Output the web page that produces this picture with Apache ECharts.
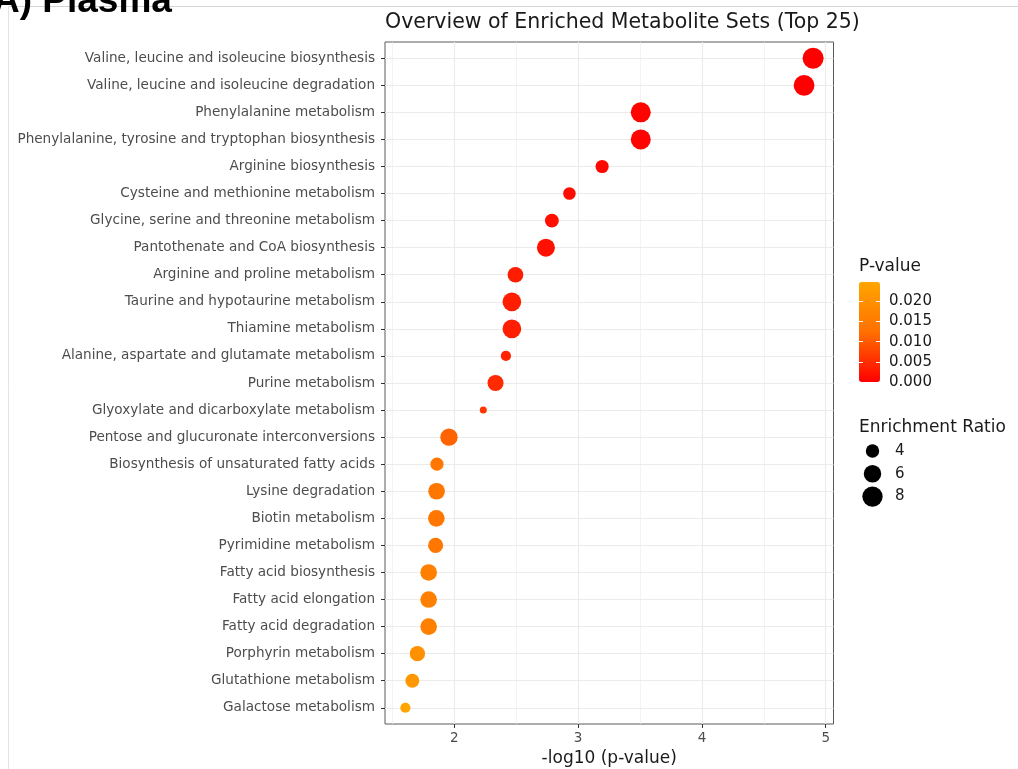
<!DOCTYPE html>
<html><head><meta charset="utf-8">
<script src="https://cdn.jsdelivr.net/npm/echarts@6/dist/echarts.min.js"></script>
<style>html,body{margin:0;padding:0;background:#fff}#c{width:1018px;height:769px}</style>
</head><body><div id="c"></div>
<script>
const categories = [
  'Valine, leucine and isoleucine biosynthesis',
  'Valine, leucine and isoleucine degradation',
  'Phenylalanine metabolism',
  'Phenylalanine, tyrosine and tryptophan biosynthesis',
  'Arginine biosynthesis',
  'Cysteine and methionine metabolism',
  'Glycine, serine and threonine metabolism',
  'Pantothenate and CoA biosynthesis',
  'Arginine and proline metabolism',
  'Taurine and hypotaurine metabolism',
  'Thiamine metabolism',
  'Alanine, aspartate and glutamate metabolism',
  'Purine metabolism',
  'Glyoxylate and dicarboxylate metabolism',
  'Pentose and glucuronate interconversions',
  'Biosynthesis of unsaturated fatty acids',
  'Lysine degradation',
  'Biotin metabolism',
  'Pyrimidine metabolism',
  'Fatty acid biosynthesis',
  'Fatty acid elongation',
  'Fatty acid degradation',
  'Porphyrin metabolism',
  'Glutathione metabolism',
  'Galactose metabolism'
];
const negLog10P = [4.898, 4.825, 3.506, 3.506, 3.194, 2.930, 2.788, 2.740, 2.494, 2.465, 2.465, 2.417, 2.333, 2.234, 1.957, 1.860, 1.857, 1.855, 1.849, 1.793, 1.793, 1.793, 1.702, 1.661, 1.605];
const enrichmentRatio = [8.5, 8.3, 7.7, 7.7, 3.9, 3.7, 4.2, 6.3, 5.0, 6.8, 6.8, 3.1, 5.2, 2.8, 5.9, 3.9, 5.5, 5.5, 4.7, 5.5, 5.5, 5.5, 4.8, 4.2, 3.1];
const xTicks = [2, 3, 4, 5];
const xMinorTicks = [1.5, 2.5, 3.5, 4.5];
const pTicks = [0, 0.005, 0.010, 0.015, 0.020];
const ratioLegend = [4, 6, 8];

const pValues = negLog10P.map(v => Math.pow(10, -v));
const pMin = Math.min(...pValues), pMax = Math.max(...pValues);
const barMin = Math.min(0, pMin);
const rMin = Math.min(...enrichmentRatio), rMax = Math.max(...enrichmentRatio);
function dotSize(r) { return 7 + 14 * Math.sqrt(Math.max(0, (r - rMin) / (rMax - rMin))); }
const xLo = Math.min(...negLog10P), xHi = Math.max(...negLog10P);
const xPad = 0.05 * (xHi - xLo);
const rowIdx = categories.map((c, i) => i);

const FONT = 'DejaVu Sans';
const chart = echarts.init(document.getElementById('c'), null, {renderer: 'canvas'});
chart.setOption({
  animation: false,
  backgroundColor: '#fff',
  textStyle: {fontFamily: FONT},
  title: {
    text: 'Overview of Enriched Metabolite Sets (Top 25)',
    left: 385, top: 12, padding: 0,
    textStyle: {fontSize: 20.5, fontWeight: 'normal', color: '#1a1a1a', fontFamily: FONT}
  },
  grid: [
    {left: 385, top: 42, width: 448.5, height: 682, show: true, borderColor: '#5a5a5a', borderWidth: 1, backgroundColor: 'transparent', outerBoundsMode: 'none', containLabel: false},
    {left: 862, top: 439.6, width: 21, height: 68.4, outerBoundsMode: 'none', containLabel: false},
    {left: 859, top: 282, width: 21, height: 100, outerBoundsMode: 'none', containLabel: false}
  ],
  xAxis: [
    {gridIndex: 0, type: 'value', min: xLo - xPad, max: xHi + xPad, position: 'bottom',
     axisLine: {show: false, onZero: false},
     axisTick: {show: true, customValues: xTicks, length: 4, lineStyle: {color: '#333'}},
     axisLabel: {customValues: xTicks, margin: 7, fontSize: 13.5, color: '#4d4d4d', fontFamily: FONT},
     splitLine: {show: true, lineStyle: {color: '#ebebeb', width: 1.1}},
     name: '-log10 (p-value)', nameLocation: 'middle', nameGap: 21,
     nameTextStyle: {fontSize: 17, color: '#1a1a1a', fontFamily: FONT}},
    {gridIndex: 0, type: 'value', min: xLo - xPad, max: xHi + xPad, position: 'top',
     axisLine: {show: false, onZero: false}, axisLabel: {show: false},
     axisTick: {show: false, customValues: xMinorTicks},
     splitLine: {show: true, lineStyle: {color: '#ebebeb', width: 0.6}}},
    {gridIndex: 1, type: 'value', min: 0, max: 1, show: false, axisLine: {onZero: false}},
    {gridIndex: 2, type: 'value', min: 0, max: 1, show: false, axisLine: {onZero: false}}
  ],
  yAxis: [
    {gridIndex: 0, type: 'value', inverse: true, min: -0.6, max: categories.length - 1 + 0.6,
     axisLine: {show: false, onZero: false},
     axisTick: {show: true, customValues: rowIdx, length: 4, lineStyle: {color: '#333'}},
     axisLabel: {customValues: rowIdx, formatter: v => categories[Math.round(v)], fontSize: 13.6, color: '#4d4d4d', margin: 10, fontFamily: FONT},
     splitLine: {show: true, lineStyle: {color: '#ebebeb', width: 1.1}}},
    {gridIndex: 1, type: 'value', inverse: true, min: -0.5, max: ratioLegend.length - 0.5, position: 'right',
     axisLine: {show: false, onZero: false}, axisTick: {show: false, customValues: [0, 1, 2]},
     axisLabel: {customValues: [0, 1, 2], formatter: v => String(ratioLegend[Math.round(v)]), margin: 12, fontSize: 15, color: '#1a1a1a', fontFamily: FONT},
     splitLine: {show: false}},
    {gridIndex: 2, type: 'value', min: barMin, max: pMax, position: 'right', z: 10,
     axisLine: {show: false, onZero: false},
     axisTick: {show: true, inside: true, length: 4, customValues: pTicks, lineStyle: {color: '#fff', width: 1}},
     axisLabel: {customValues: pTicks, formatter: v => v.toFixed(3), margin: 9, fontSize: 15, color: '#1a1a1a', fontFamily: FONT},
     splitLine: {show: false}},
    {gridIndex: 2, type: 'value', min: barMin, max: pMax, position: 'left', z: 10,
     axisLine: {show: false, onZero: false},
     axisTick: {show: true, inside: true, length: 4, customValues: pTicks, lineStyle: {color: '#fff', width: 1}},
     axisLabel: {show: false},
     splitLine: {show: false}}
  ],
  visualMap: {
    type: 'continuous', seriesIndex: 0, dimension: 3,
    min: barMin, max: pMax, calculable: false, hoverLink: false,
    left: 859, top: 282, itemWidth: 21, itemHeight: 100, padding: 0,
    inRange: {color: ['#FF0000', '#FF7000', '#FFA500']}
  },
  series: [
    {type: 'scatter', xAxisIndex: 0, yAxisIndex: 0, symbol: 'circle',
     itemStyle: {opacity: 1},
     data: categories.map((c, i) => [negLog10P[i], i, enrichmentRatio[i], pValues[i]]),
     symbolSize: v => dotSize(v[2])},
    {type: 'scatter', xAxisIndex: 2, yAxisIndex: 1, symbol: 'circle',
     itemStyle: {color: '#000', opacity: 1},
     data: ratioLegend.map((r, i) => [0.5, i, r]),
     symbolSize: v => dotSize(v[2])}
  ],
  graphic: [
    {type: 'line', shape: {x1: 8, y1: 6.5, x2: 1018, y2: 6.5}, style: {stroke: '#d4d4d4', lineWidth: 1}, z: -1},
    {type: 'line', shape: {x1: 8.5, y1: 6.5, x2: 8.5, y2: 769}, style: {stroke: '#e4e4e4', lineWidth: 1}, z: -1},
    {type: 'text', x: -7, y: 2, style: {text: 'A) Plasma', font: 'bold 37px "Liberation Sans", Arial, sans-serif', fill: '#000', verticalAlign: 'middle', align: 'left'}},
    {type: 'text', x: 859, y: 267, style: {text: 'P-value', font: '17px "DejaVu Sans"', fill: '#1a1a1a', verticalAlign: 'middle', align: 'left'}},
    {type: 'text', x: 859, y: 428, style: {text: 'Enrichment Ratio', font: '17px "DejaVu Sans"', fill: '#1a1a1a', verticalAlign: 'middle', align: 'left'}}
  ]
});
</script>
</body></html>
